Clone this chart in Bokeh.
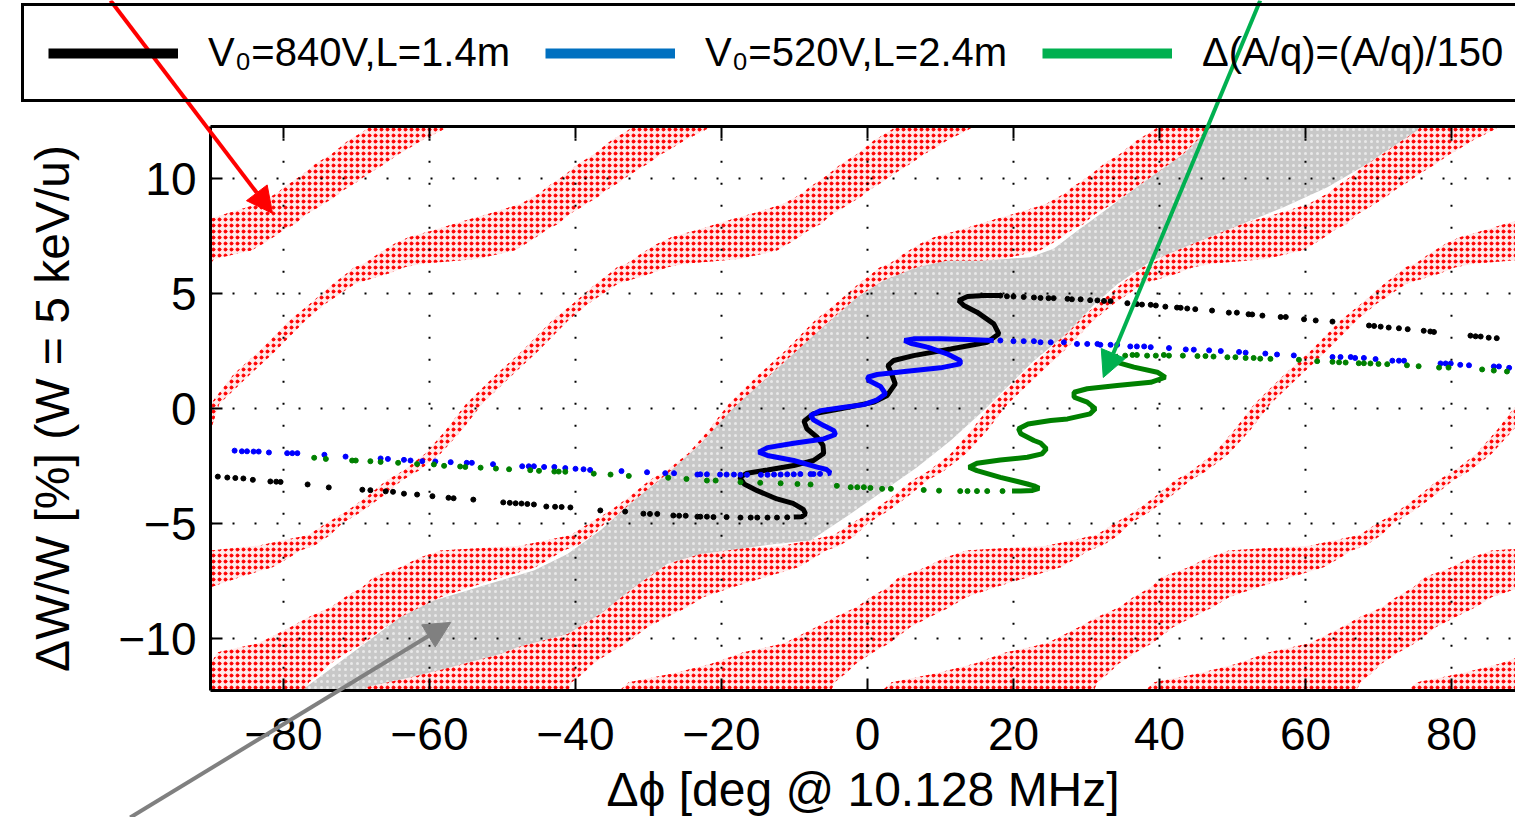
import numpy as np
from bokeh.plotting import figure
from bokeh.models import (Range1d, LinearAxis, FixedTicker, Arrow, NormalHead,
                          Legend, LegendItem)
from bokeh.embed import file_html
from bokeh.resources import INLINE

# ---------------- axes / ticks ----------------
x_ticks = [-80, -60, -40, -20, 0, 20, 40, 60, 80]
x_tick_labels = ["\u221280", "\u221260", "\u221240", "\u221220", "0", "20", "40", "60", "80"]
y_ticks = [-10, -5, 0, 5, 10]
y_tick_labels = ["\u221210", "\u22125", "0", "5", "10"]
x_min, x_max = -90.0, 90.0
y_min, y_max = -12.27, 12.27

# ---------------- acceptance stripes (one stripe, repeated every 36 deg) ----------------
band_y = [-12.27, -11.9, -11.5, -11.1, -10.6, -10.2, -9.5, -9.07, -8.64, -8.2, -7.77, -7.33,
          -6.9, -6.5, -6.17, -5.96, -5.5, -5.0, -4.5, -3.86, -3.13, -2.7, -1.97, -0.96, 0.2,
          1.5, 2.5, 3.83, 4.55, 5.42, 5.86, 6.14, 6.29, 6.5, 6.72, 6.87, 7.16, 7.45, 7.81,
          8.03, 8.25, 8.46, 8.75, 8.9, 9.19, 9.4, 9.62, 9.84, 10.2, 10.64, 11.07, 11.2,
          11.65, 12.09, 12.27]
band_left = [-142.0, -140.7, -134.4, -129.4, -125.0, -119.4, -115.0, -112.6, -109.5, -107.6,
             -105.2, -103.7, -100.0, -97.5, -94.5, -83.5, -76.6, -74.2, -71.5, -68.7, -65.9,
             -63.6, -60.6, -57.8, -55.0, -50.8, -47.3, -43.2, -40.4, -37.2, -35.4, -34.3,
             -33.0, -32.0, -31.1, -30.3, -28.8, -26.9, -22.9, -20.6, -18.3, -16.0, -13.0,
             -11.5, -9.9, -8.7, -8.0, -6.9, -5.3, -3.6, -1.4, -0.9, 0.87, 3.15, 3.9]
band_right = [-113.0, -112.5, -110.9, -109.6, -107.2, -105.0, -102.1, -99.5, -96.7, -94.5,
              -90.5, -86.0, -81.5, -79.3, -77.7, -75.8, -73.6, -72.0, -69.4, -66.6, -63.8,
              -61.5, -58.5, -55.6, -52.8, -48.5, -45.1, -41.0, -38.3, -34.2, -29.7, -27.4,
              -25.0, -17.5, -14.5, -12.4, -10.8, -9.4, -7.8, -6.3, -5.6, -4.8, -3.2, -2.5,
              -0.96, -0.2, 0.87, 2.0, 3.6, 5.9, 7.8, 8.6, 10.9, 13.65, 14.6]
band_shift = [-72, -36, 0, 36, 72, 108, 144, 180, 216]

# ---------------- grey acceptance region ----------------
grey_x = [-77.5, -76.3, -70.8, -64.0, -59.4, -54.8, -50.3, -45.7, -41.1, -36.6, -32.0, -27.4,
          -22.9, -18.3, -13.7, -9.2, -4.6, -1.4, 2.2, 6.8, 10.9, 15.9, 22.3, 25.5, 28.8, 31.9,
          35.6, 40.1, 43.3, 46.6, 47.2,
          75.8, 75.3, 72.5, 68.5, 63.0, 57.0, 52.5, 47.9, 43.3, 38.8, 34.2, 31.0, 27.4, 22.8,
          18.2, 15.9, 11.4, 6.8, 2.2, -2.3, -7.8, -13.0, -22.9, -27.4, -32.0, -36.6, -41.1,
          -48.0, -50.3, -57.1, -62.6, -68.5, -69.0]
grey_y = [-12.27, -11.97, -10.67, -9.07, -8.35, -7.91, -7.48, -7.04, -6.32, -5.30, -4.00, -2.84,
          -1.55, 0.04, 1.35, 2.65, 3.96, 4.84, 5.57, 6.14, 6.43, 6.43, 6.58, 6.95, 7.74, 8.46,
          9.33, 10.35, 11.07, 12.09, 12.27,
          12.27, 12.09, 11.50, 10.64, 9.62, 8.75, 8.17, 7.59, 7.00, 6.40, 5.40, 4.50, 3.30, 2.08,
          0.64, -0.09, -1.39, -2.55, -3.57, -4.57, -5.74, -5.90, -6.32, -6.75, -7.77, -8.93,
          -9.80, -10.38, -10.67, -11.25, -11.68, -12.10, -12.27]

# ---------------- V0=840V, L=1.4m (black) ----------------
black_line_x = [-10.1, -9.0, -8.5, -8.8, -10.2, -12.4, -15.1, -16.9, -17.5, -16.5, -13.7, -10.1,
                -7.4, -6.0, -6.1, -6.9, -8.3, -8.7, -7.4, -3.7, 0.9, 2.7, 3.8, 3.3, 2.8, 3.6,
                6.3, 11.4, 16.4, 18.0, 17.3, 15.0, 13.2, 12.5, 13.7, 16.0, 18.2]
black_line_y = [-4.72, -4.70, -4.58, -4.38, -4.12, -3.93, -3.57, -3.28, -2.99, -2.81, -2.67,
                -2.48, -2.26, -1.95, -1.60, -1.25, -0.88, -0.55, -0.23, -0.01, 0.28, 0.57, 1.07,
                1.51, 1.87, 2.09, 2.30, 2.59, 2.88, 3.25, 3.68, 4.19, 4.48, 4.70, 4.87, 4.91, 4.91]
black_dot_x = [-89.0, -87.7, -86.6, -85.5, -84.2, -81.8, -81.0, -80.4, -76.7, -73.8, -69.2, -68.1,
               -66.0, -65.0, -63.5, -61.7, -59.6, -57.4, -56.7, -54.0, -49.9, -49.0, -48.2, -47.4,
               -46.6, -45.7, -44.0, -42.8, -41.9, -40.7, -36.6, -33.2, -30.7, -29.8, -28.8, -26.6,
               -25.8, -24.9, -23.3, -22.9, -22.0, -21.1, -19.3, -17.4, -16.0, -15.1, -13.7, -12.4,
               -11.0,
               18.2, 19.1, 20.0, 21.4, 22.8, 23.7, 24.8, 25.5, 27.4, 28.0, 29.2, 30.5, 31.5, 32.4,
               33.3, 35.6, 36.9, 37.6, 38.8, 39.5, 40.8, 42.4, 42.9, 43.8, 44.9, 47.2, 49.5, 50.6,
               52.2, 52.7, 54.1, 56.6, 57.3, 59.8, 61.4, 63.7, 68.7, 69.4, 70.3, 71.4, 72.8, 74.0,
               76.2, 77.1, 77.6, 82.6, 83.3, 84.0, 85.1, 86.2]
black_dot_y = [-2.96, -3.00, -3.02, -3.04, -3.10, -3.17, -3.18, -3.19, -3.30, -3.43, -3.53, -3.55,
               -3.60, -3.62, -3.70, -3.74, -3.81, -3.88, -3.90, -3.96, -4.08, -4.10, -4.12, -4.13,
               -4.15, -4.17, -4.26, -4.27, -4.28, -4.30, -4.43, -4.48, -4.57, -4.58, -4.58, -4.65,
               -4.66, -4.66, -4.70, -4.70, -4.70, -4.72, -4.72, -4.74, -4.74, -4.74, -4.74, -4.74,
               -4.73,
               4.91, 4.88, 4.87, 4.85, 4.83, 4.81, 4.80, 4.80, 4.77, 4.75, 4.75, 4.71, 4.70, 4.68,
               4.67, 4.58, 4.54, 4.52, 4.51, 4.48, 4.43, 4.39, 4.38, 4.35, 4.32, 4.26, 4.17, 4.17,
               4.10, 4.09, 4.04, 3.98, 3.98, 3.88, 3.83, 3.78, 3.61, 3.59, 3.56, 3.52, 3.49, 3.45,
               3.38, 3.35, 3.33, 3.17, 3.14, 3.13, 3.08, 3.06]

# ---------------- V0=520V, L=2.4m (blue) ----------------
blue_line_x = [-5.5, -5.07, -5.6, -6.9, -10.1, -13.7, -14.9, -13.7, -10.1, -6.0, -4.4, -4.6, -6.0,
               -7.4, -7.8, -6.4, -3.2, -0.5, 1.33, 2.47, 1.78, 0.18, 0.0, 1.33, 5.4, 10.0, 12.7,
               12.7, 10.9, 8.2, 5.9, 5.07, 6.3, 10.0, 13.7, 17.3]
blue_line_y = [-2.84, -2.80, -2.65, -2.55, -2.26, -2.04, -1.90, -1.70, -1.51, -1.32, -1.13, -0.96,
               -0.74, -0.49, -0.30, -0.09, 0.06, 0.17, 0.38, 0.64, 0.96, 1.22, 1.36, 1.48, 1.62,
               1.77, 1.94, 2.09, 2.38, 2.67, 2.84, 2.96, 3.03, 3.03, 3.00, 2.96]
blue_dot_x = [-86.7, -85.7, -85.0, -84.1, -83.4, -82.0, -79.5, -78.8, -78.1, -74.4, -71.5, -66.7,
              -65.7, -63.5, -62.6, -61.0, -59.2, -57.1, -54.9, -54.2, -51.3, -47.3, -46.4, -45.7,
              -44.3, -42.9, -41.4, -40.0, -38.9, -38.0, -33.7, -30.2, -27.7, -26.5, -23.3, -22.9,
              -22.0, -20.2, -19.3, -18.3, -17.4, -16.5, -14.6, -13.7, -12.8, -11.9, -11.0, -10.1,
              -9.2, -7.8, -7.4, -6.5,
              18.2, 20.0, 21.4, 22.8, 23.7, 25.1, 26.9, 28.7, 30.1, 31.5, 31.9, 33.3, 34.2, 36.0,
              36.9, 37.9, 38.8, 41.3, 43.6, 44.7, 46.8, 48.4, 50.9, 51.8, 54.5, 56.1, 58.4, 63.7,
              64.8, 66.2, 66.8, 68.0, 69.6, 71.9, 72.8, 73.5, 78.5, 79.2, 79.9, 81.2, 82.4, 85.8,
              86.5, 87.9]
blue_dot_y = [-1.83, -1.86, -1.86, -1.87, -1.87, -1.91, -1.94, -1.94, -1.94, -2.01, -2.09, -2.17,
              -2.19, -2.23, -2.26, -2.29, -2.30, -2.33, -2.36, -2.36, -2.42, -2.51, -2.51, -2.51,
              -2.54, -2.54, -2.59, -2.62, -2.64, -2.67, -2.72, -2.77, -2.81, -2.81, -2.87, -2.86,
              -2.86, -2.87, -2.87, -2.87, -2.88, -2.88, -2.88, -2.88, -2.87, -2.87, -2.86, -2.86,
              -2.85, -2.85, -2.85, -2.84,
              2.96, 2.93, 2.93, 2.93, 2.88, 2.88, 2.88, 2.81, 2.81, 2.81, 2.77, 2.77, 2.77, 2.70,
              2.70, 2.70, 2.67, 2.63, 2.57, 2.56, 2.53, 2.50, 2.46, 2.43, 2.39, 2.35, 2.31, 2.24,
              2.24, 2.24, 2.20, 2.20, 2.15, 2.08, 2.08, 2.08, 1.96, 1.96, 1.96, 1.90, 1.88, 1.83,
              1.83, 1.77]

# ---------------- d(A/q)=(A/q)/150 (green) ----------------
green_line_x = [19.8, 21.0, 22.6, 23.5, 22.8, 21.9, 18.2, 15.0, 13.9, 15.0, 18.2, 21.9, 23.9,
                24.5, 23.7, 22.8, 21.0, 20.7, 22.0, 25.1, 27.4, 30.5, 31.2, 30.1, 28.3, 28.3,
                30.1, 34.2, 38.8, 40.8, 39.7, 36.5, 34.2, 33.7, 34.4]
green_line_y = [-3.59, -3.59, -3.56, -3.47, -3.36, -3.28, -2.99, -2.70, -2.55, -2.38, -2.24, -2.12,
                -1.97, -1.75, -1.50, -1.39, -1.10, -0.88, -0.67, -0.52, -0.45, -0.23, -0.01, 0.28,
                0.49, 0.71, 0.86, 1.00, 1.14, 1.36, 1.58, 1.80, 2.01, 2.16, 2.30]
green_dot_x = [-75.8, -74.2, -70.6, -70.1, -68.1, -66.7, -64.3, -61.7, -59.4, -58.0, -55.8, -55.1,
               -53.0, -50.9, -49.1, -46.2, -45.0, -42.9, -42.3, -41.4, -37.5, -35.2, -32.7, -27.3,
               -24.8, -22.0, -20.8, -17.4, -14.7, -11.9, -9.6, -7.8, -4.2, -2.3, -1.4, -0.5, 0.4,
               2.0, 3.2, 7.7, 9.8, 12.7, 13.7, 15.0, 16.4, 18.5,
               35.3, 36.3, 36.9, 38.3, 39.5, 40.6, 41.3, 43.2, 45.2, 46.3, 47.4, 49.3, 50.4, 51.8,
               52.9, 53.8, 55.2, 59.1, 61.6, 63.7, 64.6, 65.5, 67.3, 68.0, 68.9, 70.0, 71.2, 73.9,
               75.5, 78.3, 79.6, 84.2, 85.8, 87.6]
green_dot_y = [-2.14, -2.19, -2.26, -2.26, -2.29, -2.32, -2.36, -2.41, -2.43, -2.49, -2.52, -2.54,
               -2.57, -2.61, -2.64, -2.68, -2.71, -2.74, -2.74, -2.75, -2.83, -2.87, -2.93, -3.01,
               -3.06, -3.13, -3.13, -3.20, -3.23, -3.25, -3.28, -3.30, -3.36, -3.42, -3.42, -3.42,
               -3.45, -3.49, -3.49, -3.54, -3.57, -3.59, -3.59, -3.59, -3.59, -3.59,
               2.30, 2.33, 2.33, 2.30, 2.30, 2.33, 2.30, 2.30, 2.28, 2.28, 2.26, 2.23, 2.23, 2.20,
               2.20, 2.17, 2.16, 2.12, 2.06, 2.03, 2.01, 2.00, 1.97, 1.97, 1.96, 1.94, 1.93, 1.88,
               1.84, 1.78, 1.78, 1.70, 1.65, 1.61]

legend_labels = ["V\u2080=840V,L=1.4m", "V\u2080=520V,L=2.4m", "\u0394(A/q)=(A/q)/150"]

# ---------------- annotation arrows (start -> tip, data units) ----------------
arrow_x0 = [-103.7, 53.8, -101.0]
arrow_y0 = [17.74, 17.74, -17.78]
arrow_x1 = [-81.5, 32.3, -57.1]
arrow_y1 = [8.48, 1.35, -9.30]
arrow_colors = ["#ff0000", "#00b050", "#808080"]

FONT = "Liberation Sans"

p = figure(width=1515, height=817, output_backend="svg", toolbar_location=None,
           x_range=Range1d(-118.77, 88.77), y_range=Range1d(-17.78, 17.74),
           x_axis_location=None, y_axis_location=None, title=None, min_border=0)
p.grid.visible = False
p.outline_line_color = None
p.background_fill_color = "white"
p.border_fill_color = "white"

# red stripes, drawn as a regular grid of red dots (dot + ring hatch on the same grid)
by = np.array(band_y)
bl = np.array(band_left)
br = np.array(band_right)
xs, ys = [], []
for s in band_shift:
    left = np.clip(bl + s, x_min, None)
    right = np.clip(br + s, x_min, None)
    xs.append(np.concatenate([left, right[::-1]]).tolist())
    ys.append(np.concatenate([by, by[::-1]]).tolist())
p.patches(xs, ys, fill_color="#ff0000", fill_alpha=0.08, line_color=None,
          hatch_pattern="dot", hatch_color="#ff0000", hatch_scale=6)
p.patches(xs, ys, fill_color=None, line_color=None,
          hatch_pattern="ring", hatch_color="#ff0000", hatch_scale=6, hatch_weight=1)

# grey region (grey with a faint grid of light dots)
p.patch(grey_x, grey_y, fill_color="#c8c8c8", line_color=None,
        hatch_pattern="dot", hatch_color="white", hatch_alpha=0.6, hatch_scale=6)

# dotted grid
nx, ny = len(x_ticks), len(y_ticks)
p.segment(x0=x_ticks, y0=[y_min] * nx, x1=x_ticks, y1=[y_max] * nx,
          line_color="black", line_width=2, line_dash="2 20")
p.segment(x0=[x_min] * ny, y0=y_ticks, x1=[x_max] * ny, y1=y_ticks,
          line_color="black", line_width=2, line_dash="2 20")

# beam curves
p.line(black_line_x, black_line_y, line_color="black", line_width=5)
p.scatter(black_dot_x, black_dot_y, size=5, color="black")
p.line(blue_line_x, blue_line_y, line_color="#0000ff", line_width=5)
p.scatter(blue_dot_x, blue_dot_y, size=5, color="#0000ff")
p.line(green_line_x, green_line_y, line_color="#008000", line_width=5)
p.scatter(green_dot_x, green_dot_y, size=5, color="#008000")

# axes
def style(ax):
    ax.axis_line_width = 3
    ax.axis_line_color = "black"
    ax.major_tick_in = 12
    ax.major_tick_out = 0
    ax.minor_tick_in = 0
    ax.minor_tick_out = 0
    ax.major_tick_line_width = 2
    ax.major_label_text_font = FONT
    ax.major_label_text_font_size = "46px"
    ax.major_label_text_color = "black"
    ax.axis_label_text_font = FONT
    ax.axis_label_text_font_size = "48px"
    ax.axis_label_text_font_style = "normal"
    ax.axis_label_text_color = "black"

xaxis = LinearAxis(fixed_location=y_min, bounds=(x_min, x_max), ticker=FixedTicker(ticks=x_ticks),
                   major_label_overrides=dict(zip(x_ticks, x_tick_labels)),
                   axis_label="\u0394\u03d5 [deg @ 10.128 MHz]")
style(xaxis)
xaxis.major_label_standoff = 27
xaxis.axis_label_standoff = 10
p.add_layout(xaxis, "below")

yaxis = LinearAxis(fixed_location=x_min, bounds=(y_min, y_max), ticker=FixedTicker(ticks=y_ticks),
                   major_label_overrides=dict(zip(y_ticks, y_tick_labels)),
                   axis_label="\u0394W/W [%] (W = 5 keV/u)")
style(yaxis)
yaxis.major_label_standoff = 14
yaxis.axis_label_standoff = 36
p.add_layout(yaxis, "left")

topaxis = LinearAxis(fixed_location=y_max, bounds=(x_min, x_max), ticker=FixedTicker(ticks=x_ticks))
style(topaxis)
topaxis.major_label_text_color = None
p.add_layout(topaxis, "above")

# legend (one-point placeholder renderers carry the legend styling)
lb = p.line([x_min], [y_min], line_color="black", line_width=10)
lu = p.line([x_min], [y_min], line_color="#0070c0", line_width=10)
lg = p.line([x_min], [y_min], line_color="#00b050", line_width=10)
legend = Legend(items=[LegendItem(label=legend_labels[0], renderers=[lb]),
                       LegendItem(label=legend_labels[1], renderers=[lu]),
                       LegendItem(label=legend_labels[2], renderers=[lg])],
                orientation="horizontal", location=(21, 715), padding=24, spacing=35,
                label_standoff=30, glyph_width=130, glyph_height=20, margin=0,
                label_text_font=FONT, label_text_font_size="40px", label_text_color="black",
                border_line_color="black", border_line_width=3, border_line_alpha=1.0,
                background_fill_alpha=0.0)
p.add_layout(legend)

# arrows
for i in range(3):
    c = arrow_colors[i]
    p.add_layout(Arrow(end=NormalHead(size=26, fill_color=c, line_color=c),
                       x_start=arrow_x0[i], y_start=arrow_y0[i],
                       x_end=arrow_x1[i], y_end=arrow_y1[i],
                       line_color=c, line_width=4))

open("out.html", "w").write(file_html(p, INLINE))
